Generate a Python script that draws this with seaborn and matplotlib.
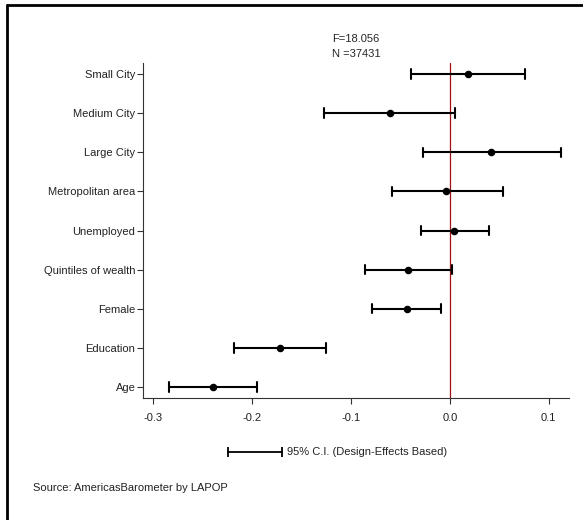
import numpy as np
import pandas as pd
import matplotlib
matplotlib.use('Agg')
import matplotlib.pyplot as plt
from matplotlib.lines import Line2D
import seaborn as sns

# coefficients and 95% CI
labels = ['Small City', 'Medium City', 'Large City', 'Metropolitan area', 'Unemployed',
          'Quintiles of wealth', 'Female', 'Education', 'Age']
coef = [0.0181, -0.0610, 0.0422, -0.0034, 0.0045, -0.0422, -0.0437, -0.1718, -0.2399]
ci_low = [-0.0395, -0.1273, -0.0271, -0.0588, -0.0294, -0.0862, -0.0783, -0.2188, -0.2840]
ci_high = [0.0761, 0.0056, 0.1122, 0.0539, 0.0399, 0.0023, -0.0087, -0.1250, -0.1955]
xticks = [-0.3, -0.2, -0.1, 0.0, 0.1]

# long table: median of (low, coef, high) = coef, full range = CI
df = pd.DataFrame({
    'variable': labels * 3,
    'value': ci_low + coef + ci_high,
})

sns.set_style('white')
plt.rcParams['font.family'] = ['Liberation Sans', 'DejaVu Sans']
plt.rcParams['font.size'] = 8

fig = plt.figure(figsize=(5.83, 5.2), dpi=100)
ax = fig.add_axes([0.2453, 0.2346, 0.976 - 0.2453, 0.8788 - 0.2346])

sns.pointplot(data=df, x='value', y='variable', order=labels, orient='h',
              estimator='median', errorbar=('pi', 100), linestyle='none',
              color='black', markers='o', markersize=3.4, capsize=0.24,
              err_kws={'linewidth': 1.5}, ax=ax)

ax.axvline(0, color='#a01010', linewidth=0.9, zorder=0)

ax.set_xlim(-0.3106, 0.1207)
ax.set_ylim(len(labels) - 1 + 0.28, -0.28)
ax.set_xticks(xticks)
ax.set_xticklabels(['%.1f' % v for v in xticks])
ax.set_xlabel('')
ax.set_ylabel('')
ax.set_title('F=18.056\nN =37431', fontsize=8, pad=4, linespacing=1.65)

for side in ['top', 'right']:
    ax.spines[side].set_visible(False)
for side in ['left', 'bottom']:
    ax.spines[side].set_color('#333333')
    ax.spines[side].set_linewidth(0.8)
ax.tick_params(axis='both', direction='out', length=4, width=0.8, color='#333333',
               labelsize=8, labelcolor='#222222', left=True, bottom=True)
ax.tick_params(axis='y', pad=1.5)
ax.tick_params(axis='x', pad=6.5)

# CI legend sample
W, H = 583.0, 520.0
leg = Line2D([228 / W, 282 / W], [1 - 452 / H, 1 - 452 / H], transform=fig.transFigure,
             color='black', linewidth=1.3, marker='|', markersize=7, markeredgewidth=1.3)
fig.add_artist(leg)
fig.text(287 / W, 1 - 452 / H, '95% C.I. (Design-Effects Based)', fontsize=8,
         va='center', ha='left', color='#222222')
fig.text(33 / W, 1 - 488 / H, 'Source: AmericasBarometer by LAPOP', fontsize=8,
         va='center', ha='left', color='#222222')

# outer frame (left and top edges visible)
fig.add_artist(Line2D([7 / W, 7 / W], [0, 1 - 5 / H], transform=fig.transFigure,
                      color='black', linewidth=2))
fig.add_artist(Line2D([7 / W, 1], [1 - 5 / H, 1 - 5 / H], transform=fig.transFigure,
                      color='black', linewidth=2))

fig.savefig('out.png', dpi=100)
